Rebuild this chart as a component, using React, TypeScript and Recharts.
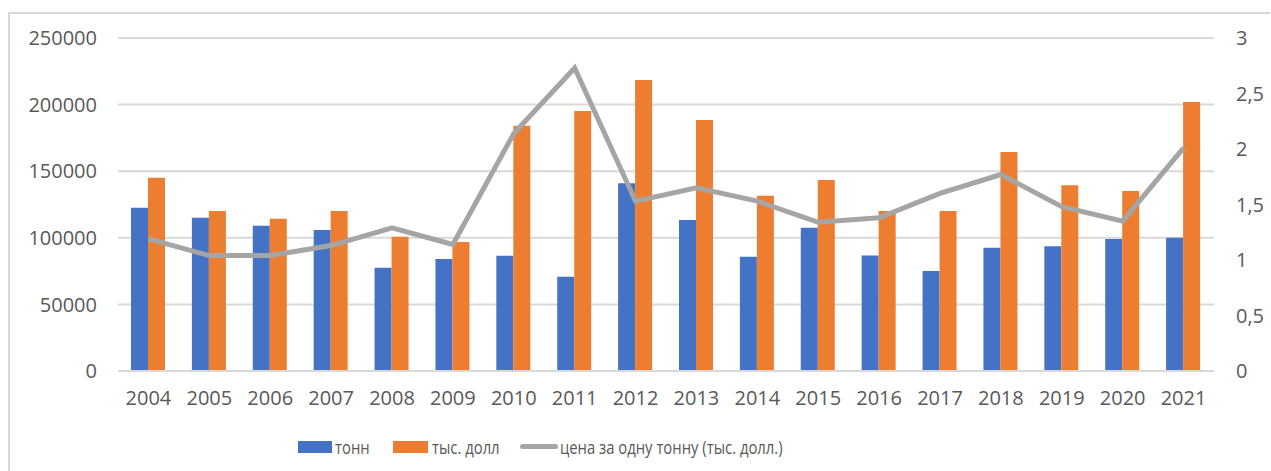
import { ComposedChart, Bar, Line, XAxis, YAxis, CartesianGrid } from 'recharts'

// Years on the category axis
const years = ['2004', '2005', '2006', '2007', '2008', '2009', '2010', '2011', '2012',
    '2013', '2014', '2015', '2016', '2017', '2018', '2019', '2020', '2021']

// тонн
const tons = [122500, 115100, 109100, 105900, 77600, 84100, 86600, 70800, 140900,
    113400, 85800, 107600, 86800, 75100, 92600, 93600, 99100, 100100]

// тыс. долл
const thousandUsd = [145100, 120100, 114300, 120100, 100800, 96800, 184200, 195200, 218500,
    188400, 131600, 143400, 120100, 120100, 164400, 139400, 135100, 202000]

// цена за одну тонну (тыс. долл.)
const pricePerTon = [1.19, 1.04, 1.04, 1.13, 1.29, 1.14, 2.14, 2.73, 1.53,
    1.65, 1.53, 1.34, 1.38, 1.6, 1.77, 1.48, 1.35, 2.01]

const leftTicks = [0, 50000, 100000, 150000, 200000, 250000]
const rightTicks = [0, 0.5, 1, 1.5, 2, 2.5, 3]

const BLUE = '#4472C4'
const ORANGE = '#ED7D31'
const GRAY = '#A5A5A5'
const TEXT = '#595959'
const GRID = '#D9D9D9'

const chartData = years.map((year, i) => ({
    year,
    tons: tons[i],
    usd: thousandUsd[i],
    price: pricePerTon[i]
}))

const tickStyle = { fill: TEXT, fontSize: 20, fontFamily: '"Open Sans", sans-serif' }

// legend labels are narrower than the tick font, squeeze them a bit
const legendText = (left: number, label: string) => (
    <span style={{ position: 'absolute', left, top: 0, whiteSpace: 'nowrap', transform: 'scaleX(0.78)', transformOrigin: 'left center' }}>
        {label}
    </span>
)

export default function App() {
    return (
        <div style={{ position: 'absolute', left: 0, top: 0, width: 1271, height: 471, background: '#fff', overflow: 'hidden' }}>
            {/* frame */}
            <div style={{ position: 'absolute', left: 8, top: 12, width: 1260, height: 480, borderTop: `2px solid ${GRID}`, borderLeft: `2px solid ${GRID}` }} />

            <div style={{ position: 'absolute', left: 0, top: 0 }}>
                <ComposedChart
                    width={1271}
                    height={471}
                    data={chartData}
                    margin={{ top: 38, right: 0, left: 0, bottom: 70 }}
                    barGap={0}
                >
                    <CartesianGrid yAxisId="left" vertical={false} stroke={GRID} strokeWidth={2} />

                    <XAxis
                        dataKey="year"
                        height={30}
                        tick={tickStyle}
                        tickLine={false}
                        tickSize={0}
                        tickMargin={20}
                        axisLine={{ stroke: GRID, strokeWidth: 2 }}
                        interval={0}
                    />

                    <YAxis
                        yAxisId="left"
                        width={118}
                        domain={[0, 250000]}
                        ticks={leftTicks}
                        tick={tickStyle}
                        tickLine={false}
                        tickSize={0}
                        tickMargin={21}
                        axisLine={false}
                        interval={0}
                    />

                    <YAxis
                        yAxisId="right"
                        orientation="right"
                        width={57}
                        domain={[0, 3]}
                        ticks={rightTicks}
                        tick={{ ...tickStyle, textAnchor: 'start' }}
                        tickLine={false}
                        tickSize={0}
                        tickMargin={22}
                        axisLine={false}
                        interval={0}
                        tickFormatter={(v: number) => String(v).replace('.', ',')}
                    />

                    <Bar yAxisId="left" dataKey="tons" fill={BLUE} barSize={17} isAnimationActive={false} />
                    <Bar yAxisId="left" dataKey="usd" fill={ORANGE} barSize={17} isAnimationActive={false} />

                    <Line
                        yAxisId="right"
                        type="linear"
                        dataKey="price"
                        stroke={GRAY}
                        strokeWidth={5}
                        dot={false}
                        isAnimationActive={false}
                    />
                </ComposedChart>
            </div>

            {/* Legend */}
            <div style={{ position: 'absolute', top: 434, left: 0, width: 1271, height: 26, color: TEXT, fontSize: 19, fontFamily: '"Open Sans", sans-serif' }}>
                <div style={{ position: 'absolute', left: 298, top: 7, width: 34, height: 12, background: BLUE }} />
                {legendText(335, 'тонн')}
                <div style={{ position: 'absolute', left: 393, top: 7, width: 35, height: 12, background: ORANGE }} />
                {legendText(432, 'тыс. долл')}
                <div style={{ position: 'absolute', left: 520, top: 10, width: 38, height: 5, borderRadius: 3, background: GRAY }} />
                {legendText(560, 'цена за одну тонну (тыс. долл.)')}
            </div>
        </div>
    )
}
